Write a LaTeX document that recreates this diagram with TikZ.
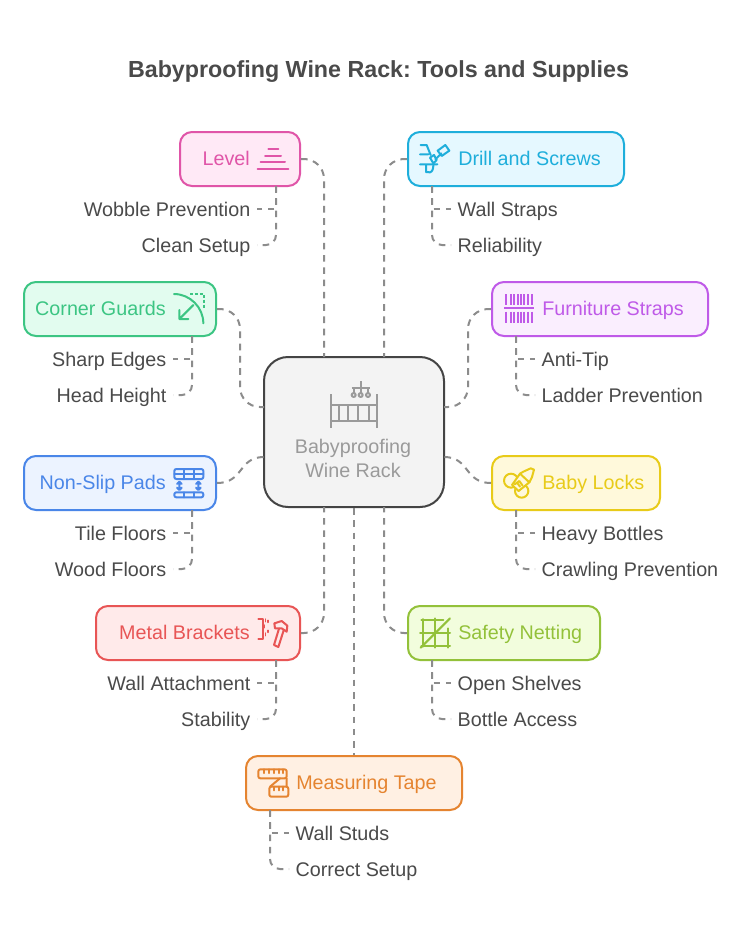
\documentclass[tikz,border=0pt]{standalone}
\usepackage{fontspec}
\setmainfont{Liberation Sans}
\frenchspacing
\definecolor{ink}{HTML}{4A4A4A}
\definecolor{dashc}{HTML}{8C8C8C}
\definecolor{lvS}{HTML}{E055A8}\definecolor{lvF}{HTML}{FFE9F6}
\definecolor{drS}{HTML}{1EAEDB}\definecolor{drF}{HTML}{E5F8FF}
\definecolor{cgS}{HTML}{3CC583}\definecolor{cgF}{HTML}{E2FCEF}
\definecolor{fuS}{HTML}{BF5AE8}\definecolor{fuF}{HTML}{FAEEFE}
\definecolor{nsS}{HTML}{4A86E8}\definecolor{nsF}{HTML}{ECF3FF}
\definecolor{blS}{HTML}{E8CB19}\definecolor{blF}{HTML}{FFF9DB}
\definecolor{mbS}{HTML}{E85555}\definecolor{mbF}{HTML}{FFEAEA}
\definecolor{snS}{HTML}{93C13A}\definecolor{snF}{HTML}{F2FDDD}
\definecolor{mtS}{HTML}{E58430}\definecolor{mtF}{HTML}{FFF0E3}
\definecolor{ctS}{HTML}{444444}\definecolor{ctF}{HTML}{F3F3F3}
\definecolor{ctT}{HTML}{9A9A9A}
\tikzset{
  base text/.style={font=\fontsize{14.8pt}{17pt}\selectfont,inner sep=0pt,text height=13.5pt,text depth=3pt},
  box/.style n args={4}{draw=#1,fill=#2,line width=1.5pt,rounded corners=9pt,minimum width=#3*0.75pt,minimum height=#4*0.75pt,inner sep=0pt},
  lblE/.style={base text,anchor=east},
  lblW/.style={base text,anchor=west},
  subE/.style={base text,anchor=east,text=ink,outer xsep=5pt},
  subW/.style={base text,anchor=west,text=ink,outer xsep=5pt},
  link/.style={draw=dashc,line width=1.5pt,dash pattern=on 5pt off 4.2pt},
  round big/.style={rounded corners=15pt},
  round sub/.style={rounded corners=7.5pt},
  icon/.style={line width=1.5pt,line cap=round,line join=round},
}
\begin{document}
\begin{tikzpicture}[x=0.75pt,y=-0.75pt]
\path[fill=white,use as bounding box] (0,0) rectangle (756,931);
\node[font=\bfseries\fontsize{17.45pt}{20pt}\selectfont,text=ink,inner sep=0pt] (title) at (378.5,71.5) {Babyproofing Wine Rack: Tools and Supplies};

% boxes
\node[box={ctS}{ctF}{180}{150},rounded corners=18pt] (ctr) at (354,432) {};
\node[box={lvS}{lvF}{120}{54}] (lvl) at (240,159) {};
\node[box={drS}{drF}{216}{54}] (drl) at (516,159) {};
\node[box={cgS}{cgF}{192}{54}] (cg) at (120,309) {};
\node[box={fuS}{fuF}{216}{54}] (fu) at (600,309) {};
\node[box={nsS}{nsF}{192}{54}] (ns) at (120,483) {};
\node[box={blS}{blF}{168}{54}] (bl) at (576,483) {};
\node[box={mbS}{mbF}{204}{54}] (mb) at (198,633) {};
\node[box={snS}{snF}{192}{54}] (sn) at (504,633) {};
\node[box={mtS}{mtF}{216}{54}] (mt) at (354,783) {};

% box labels
\node[lblE,text=lvS] (lvlT) at (250,158) {Level};
\node[lblW,text=drS] (drlT) at (458,158) {Drill and Screws};
\node[lblE,text=cgS] (cgT) at (166,308) {Corner Guards};
\node[lblW,text=fuS] (fuT) at (542,308) {Furniture Straps};
\node[lblE,text=nsS] (nsT) at (166,482) {Non-Slip Pads};
\node[lblW,text=blS] (blT) at (542,482) {Baby Locks};
\node[lblE,text=mbS] (mbT) at (250,632) {Metal Brackets};
\node[lblW,text=snS] (snT) at (458,632) {Safety Netting};
\node[lblW,text=mtS] (mtT) at (296,782) {Measuring Tape};
\node[base text,text=ctT,anchor=center] (ctT1) at (353,446) {Babyproofing};
\node[base text,text=ctT,anchor=center] (ctT2) at (353,470) {Wine Rack};

% sub labels
\node[subE] (a1) at (257,209) {Wobble Prevention};
\node[subE] (a2) at (257,245) {Clean Setup};
\node[subW] (b1) at (451,209) {Wall Straps};
\node[subW] (b2) at (451,245) {Reliability};
\node[subE] (c1) at (173,359) {Sharp Edges};
\node[subE] (c2) at (173,395) {Head Height};
\node[subW] (d1) at (535,359) {Anti-Tip};
\node[subW] (d2) at (535,395) {Ladder Prevention};
\node[subE] (e1) at (173,533) {Tile Floors};
\node[subE] (e2) at (173,569) {Wood Floors};
\node[subW] (f1) at (535,533) {Heavy Bottles};
\node[subW] (f2) at (535,569) {Crawling Prevention};
\node[subE] (g1) at (257,683) {Wall Attachment};
\node[subE] (g2) at (257,719) {Stability};
\node[subW] (h1) at (451,683) {Open Shelves};
\node[subW] (h2) at (451,719) {Bottle Access};
\node[subW] (i1) at (289,833) {Wall Studs};
\node[subW] (i2) at (289,869) {Correct Setup};

% connection points
\coordinate (ctrNW) at (324,357);
\coordinate (ctrNE) at (384,357);
\coordinate (ctrWu) at (264,407);
\coordinate (ctrWd) at (264,457);
\coordinate (ctrEu) at (444,407);
\coordinate (ctrEd) at (444,457);
\coordinate (ctrSW) at (324,507);
\coordinate (ctrSE) at (384,507);
\coordinate (lvlB) at (276,186);
\coordinate (drlB) at (432,186);
\coordinate (cgB) at (192,336);
\coordinate (fuB) at (516,336);
\coordinate (nsB) at (192,510);
\coordinate (blB) at (516,510);
\coordinate (mbB) at (276,660);
\coordinate (snB) at (432,660);
\coordinate (mtB) at (270,810);

% connectors to centre
\draw[link,round big] (lvl.east) -| (ctrNW);
\draw[link,round big] (drl.west) -| (ctrNE);
\draw[link,round big] (cg.east) -- ++(23,0) |- (ctrWu);
\draw[link,round big] (fu.west) -- ++(-23,0) |- (ctrEu);
\draw[link] (ns.east) .. controls (244,483) and (238,457) .. (ctrWd);
\draw[link] (bl.west) .. controls (464,483) and (470,457) .. (ctrEd);
\draw[link,round big] (mb.east) -| (ctrSW);
\draw[link,round big] (sn.west) -| (ctrSE);
\draw[link] (ctr.south) -- (mt.north);

% connectors to sub labels
\draw[link] (lvlB) |- (a1.east);
\draw[link,round sub] (lvlB) |- (a2.east);
\draw[link] (drlB) |- (b1.west);
\draw[link,round sub] (drlB) |- (b2.west);
\draw[link] (cgB) |- (c1.east);
\draw[link,round sub] (cgB) |- (c2.east);
\draw[link] (fuB) |- (d1.west);
\draw[link,round sub] (fuB) |- (d2.west);
\draw[link] (nsB) |- (e1.east);
\draw[link,round sub] (nsB) |- (e2.east);
\draw[link] (blB) |- (f1.west);
\draw[link,round sub] (blB) |- (f2.west);
\draw[link] (mbB) |- (g1.east);
\draw[link,round sub] (mbB) |- (g2.east);
\draw[link] (snB) |- (h1.west);
\draw[link,round sub] (snB) |- (h2.west);
\draw[link] (mtB) |- (i1.west);
\draw[link,round sub] (mtB) |- (i2.west);

% icons (each scope uses the 3x crop coordinates of its region)
% level
\begin{scope}[shift={(170,120)},x=0.25pt,y=-0.25pt,icon,draw=lvS]
\draw (295,88)--(325,88) (285,107)--(333,107) (272,127)--(345,127) (263,147)--(355,147);
\end{scope}
% drill
\begin{scope}[shift={(400,120)},x=0.25pt,y=-0.25pt,icon,draw=drS]
\draw (62,75)--(80,75)--(92,105) (60,103)--(85,103) (60,133)--(112,133);
\draw (78,135)--(78,156)--(90,157) .. controls (98,155) and (100,145) .. (100,135);
\draw (90,113)--(102,105)--(110,120)--(100,130)--cycle;
\draw (106,118)--(124,100);
\draw (113,92)--(136,75)--(148,92)--(125,108)--cycle;
\end{scope}
% corner guards
\begin{scope}[shift={(10,270)},x=0.25pt,y=-0.25pt,icon,draw=cgS]
\draw (492,72) .. controls (540,72) and (580,112) .. (580,160);
\draw[dash pattern=on 2.5pt off 1.2pt,line cap=butt] (540,72)--(582,72)--(582,115);
\draw (550,105)--(508,147) (508,120)--(508,147)--(535,147);
\end{scope}
% non-slip pads
\begin{scope}[shift={(10,270)},x=0.25pt,y=-0.25pt,icon,draw=nsS]
\draw[rounded corners=1.5pt] (493,597) rectangle (580,627);
\draw (493,612)--(580,612) (522,597)--(522,627) (551,597)--(551,627);
\draw[rounded corners=1.5pt] (493,667) rectangle (580,682);
\draw (522,667)--(522,682) (551,667)--(551,682);
\draw (508,637)--(508,658) (501,642)--(508,635)--(515,642) (501,653)--(508,660)--(515,653);
\draw (565,637)--(565,658) (558,642)--(565,635)--(572,642) (558,653)--(565,660)--(572,653);
\end{scope}
% furniture straps
\begin{scope}[shift={(400,120)},x=0.25pt,y=-0.25pt,icon,draw=fuS,line cap=butt]
\draw (312,565)--(402,565);
\foreach \xx in {318,332,343,353,363,373,385,397}{
  \draw[line width=1.3pt] (\xx,523)--(\xx,556) (\xx,575)--(\xx,610);
}
\end{scope}
% crib
\begin{scope}[shift={(255,345)},x=0.25pt,y=-0.25pt,icon,draw=ctT,line cap=butt]
\draw (228,148)--(228,250) (366,148)--(366,250);
\draw (228,180)--(366,180) (228,227)--(366,227);
\foreach \xx in {251,280,310,343}{\draw (\xx,180)--(\xx,227);}
\draw (317,108)--(317,144) (290,128)--(346,128) (296,128)--(296,144) (339,128)--(339,144);
\draw (296,150) circle (6) (317,150) circle (6) (339,150) circle (6);
\end{scope}
% baby locks
\begin{scope}[shift={(440,445)},x=0.25pt,y=-0.25pt,icon,draw=blS]
\draw (213,107) circle (21);
\draw (245,138) circle (20);
\draw[fill=blF] (216,120)--(240,86)--(268,112)--(236,138)--cycle;
\draw (240,86)--(250,80)--(272,70)--(282,74)--(276,96)--(268,112);
\draw (224,118)--(238,108)--(248,122) (231,113)--(240,125);
\end{scope}
% metal brackets
\begin{scope}[shift={(90,595)},x=0.25pt,y=-0.25pt,icon,draw=mbS]
\draw (505,72)--(518,72)--(518,132)--(505,132);
\draw[line width=1.1pt] (526,72)--(526,80) (534,76)--(534,82) (524,90)--(524,98) (534,106)--(534,112) (526,114)--(526,122);
\draw (553,85)--(575,78)--(592,92)--(590,110)--(575,100)--(555,100)--cycle;
\draw (567,101)--(552,150)--(565,156)--(581,106);
\end{scope}
% safety netting
\begin{scope}[shift={(380,595)},x=0.25pt,y=-0.25pt,icon,draw=snS]
\draw (130,72)--(130,155) (165,70)--(165,158) (205,100)--(205,158);
\draw (124,75)--(190,75) (120,113)--(210,113) (124,152)--(210,152);
\draw (122,158)--(210,70);
\end{scope}
% measuring tape
\begin{scope}[shift={(240,745)},x=0.25pt,y=-0.25pt,icon,draw=mtS]
\draw[rounded corners=1.5pt] (55,73) rectangle (140,100);
\draw (72,73)--(72,84) (87,73)--(87,84) (102,73)--(102,84) (117,73)--(117,84) (128,73)--(128,84);
\draw (140,100)--(140,125) (120,100)--(90,125);
\draw[rounded corners=1.5pt] (88,125) rectangle (145,155);
\draw (102,125)--(102,136) (116,125)--(116,136) (130,125)--(130,136);
\end{scope}
\end{tikzpicture}
\end{document}
